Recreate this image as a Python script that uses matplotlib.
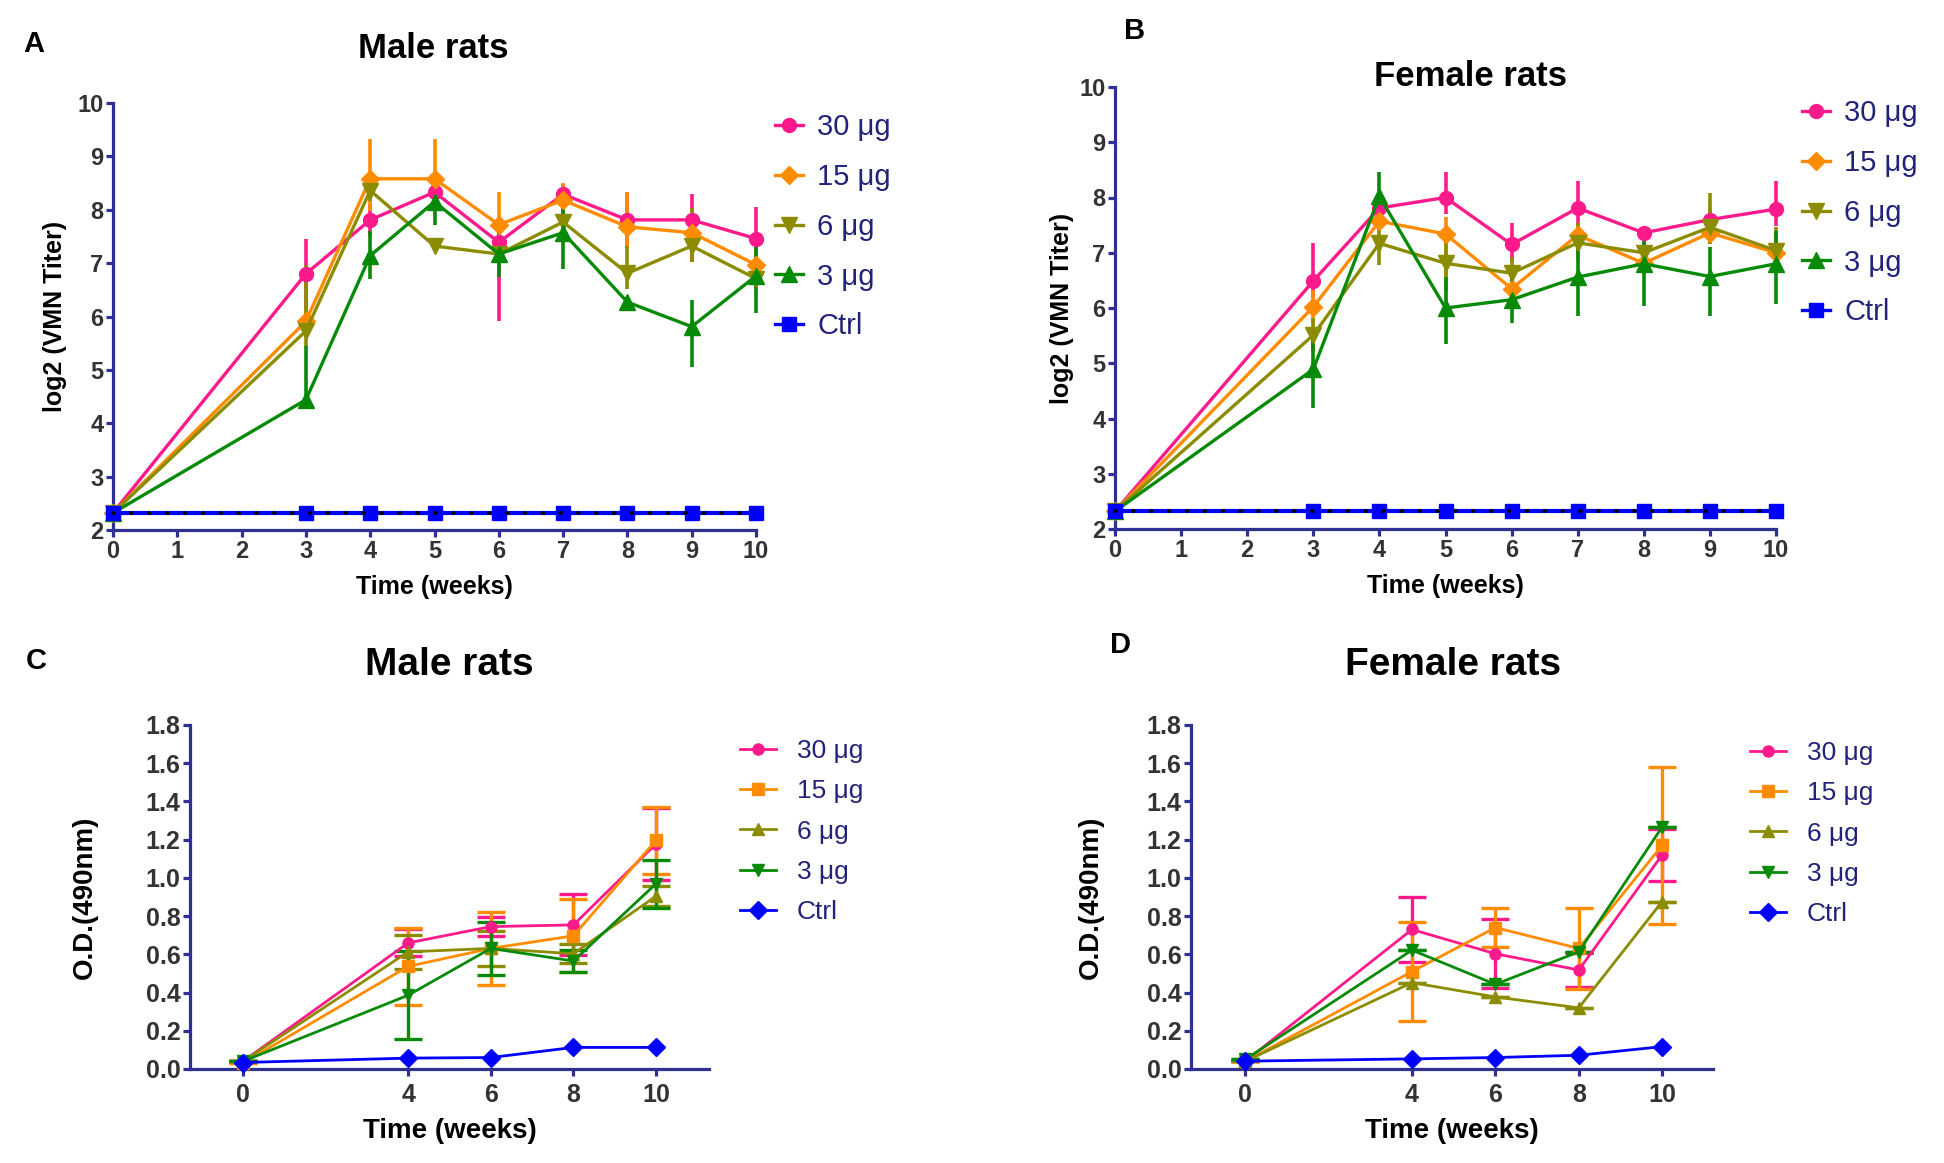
import matplotlib
matplotlib.use("Agg")
import matplotlib.pyplot as plt
from matplotlib.lines import Line2D
import numpy as np

plt.rcParams['font.family'] = ['Liberation Sans', 'DejaVu Sans']

# ---------------- data ----------------
weeks_ab = [0, 3, 4, 5, 6, 7, 8, 9, 10]
weeks_cd = [0, 4, 6, 8, 10]
labels = ['30 μg', '15 μg', '6 μg', '3 μg', 'Ctrl']

# Panel A (male, log2 VMN titer)
A_30 = [2.32, 6.80, 7.81, 8.33, 7.39, 8.29, 7.81, 7.81, 7.46]
A_30_hi = [0, 0.65, 0.30, 0.15, 0.30, 0.20, 0.52, 0.48, 0.60]
A_30_lo = [0, 0.65, 0.30, 0.15, 1.48, 0.20, 0.50, 0.78, 0.50]
A_15 = [2.32, 5.91, 8.58, 8.58, 7.72, 8.18, 7.68, 7.57, 6.97]
A_15_hi = [0, 0.30, 0.74, 0.74, 0.61, 0.32, 0.65, 0.40, 0.30]
A_15_lo = [0, 0.30, 0.60, 0.60, 0.60, 0.30, 0.40, 0.40, 0.30]
A_6 = [2.32, 5.73, 8.36, 7.32, 7.17, 7.77, 6.81, 7.32, 6.71]
A_6_hi = [0, 1.23, 0.20, 0.10, 0.20, 0.30, 0.51, 0.72, 0.20]
A_6_lo = [0, 0.30, 0.20, 0.10, 0.20, 0.30, 0.30, 0.30, 0.20]
A_3 = [2.32, 4.44, 7.14, 8.15, 7.17, 7.57, 6.27, 5.81, 6.76]
A_3_hi = [0, 1.00, 0.47, 0.39, 0.43, 0.47, 0.10, 0.50, 0.56]
A_3_lo = [0, 0.00, 0.43, 0.43, 0.43, 0.68, 0.10, 0.76, 0.70]
A_ctrl = [2.32, 2.32, 2.32, 2.32, 2.32, 2.32, 2.32, 2.32, 2.32]

# Panel B (female, log2 VMN titer)
B_30 = [2.32, 6.49, 7.81, 8.00, 7.15, 7.81, 7.36, 7.60, 7.79]
B_30_hi = [0, 0.69, 0.20, 0.47, 0.38, 0.49, 0.10, 0.20, 0.51]
B_30_lo = [0, 0.30, 0.20, 0.30, 0.30, 0.30, 0.10, 0.20, 0.30]
B_15 = [2.32, 6.02, 7.57, 7.34, 6.35, 7.32, 6.81, 7.36, 7.00]
B_15_hi = [0, 0.30, 0.20, 0.30, 0.20, 0.20, 0.20, 0.20, 0.20]
B_15_lo = [0, 0.30, 0.20, 0.80, 0.20, 0.20, 0.20, 0.20, 0.20]
B_6 = [2.32, 5.51, 7.17, 6.81, 6.63, 7.18, 7.00, 7.46, 7.04]
B_6_hi = [0, 0.30, 0.33, 0.50, 0.30, 0.35, 0.30, 0.63, 0.42]
B_6_lo = [0, 0.30, 0.40, 0.50, 0.30, 0.30, 0.30, 0.30, 0.30]
B_3 = [2.32, 4.89, 8.02, 6.00, 6.15, 6.56, 6.80, 6.57, 6.80]
B_3_hi = [0, 0.70, 0.45, 0.56, 0.45, 0.52, 0.59, 0.54, 0.59]
B_3_lo = [0, 0.70, 0.40, 0.66, 0.43, 0.70, 0.77, 0.71, 0.73]
B_ctrl = [2.32, 2.32, 2.32, 2.32, 2.32, 2.32, 2.32, 2.32, 2.32]

# Panel C (male, O.D. 490nm)
C_30 = [0.04, 0.66, 0.745, 0.754, 1.178]
C_30_err = [0, 0.07, 0.05, 0.16, 0.19]
C_15 = [0.03, 0.537, 0.631, 0.697, 1.197]
C_15_err = [0, 0.20, 0.19, 0.19, 0.175]
C_6 = [0.04, 0.613, 0.631, 0.603, 0.905]
C_6_err = [0, 0.09, 0.09, 0.05, 0.05]
C_3 = [0.04, 0.386, 0.631, 0.565, 0.97]
C_3_err = [0, 0.23, 0.14, 0.06, 0.125]
C_ctrl = [0.034, 0.057, 0.06, 0.113, 0.113]

# Panel D (female, O.D. 490nm)
D_30 = [0.04, 0.73, 0.603, 0.518, 1.12]
D_30_err = [0, 0.17, 0.18, 0.09, 0.135]
D_15 = [0.04, 0.51, 0.74, 0.631, 1.17]
D_15_err = [0, 0.26, 0.10, 0.21, 0.41]
D_6 = [0.04, 0.452, 0.377, 0.32, 0.876]
D_6_err = [0, 0, 0, 0, 0]
D_3 = [0.05, 0.622, 0.443, 0.613, 1.266]
D_3_err = [0, 0, 0, 0, 0]
D_ctrl = [0.041, 0.053, 0.06, 0.072, 0.117]

# ---------------- style ----------------
PINK = '#FF1A8C'
ORANGE = '#FF8C00'
OLIVE = '#8C8C00'
GREEN = '#078A07'
BLUE = '#0000FF'
AXC = '#2E3192'
TICKC = '#333333'
LEGC = '#22227A'

W, H = 1944, 1163
fig = plt.figure(figsize=(W / 100, H / 100), dpi=100)


def rect(l, t, r, b):
    return [l / W, 1 - b / H, (r - l) / W, (b - t) / H]


def style_axes(ax, fs):
    for s in ['top', 'right']:
        ax.spines[s].set_visible(False)
    for s in ['left', 'bottom']:
        ax.spines[s].set_color(AXC)
        ax.spines[s].set_linewidth(2.3)
    ax.tick_params(axis='both', direction='out', length=5, width=2.3, color=AXC,
                   labelsize=fs, labelcolor=TICKC, pad=2)
    for lab in ax.get_xticklabels() + ax.get_yticklabels():
        lab.set_fontweight('bold')


# ---------- Panels A & B ----------
ab_markers = ['o', 'D', 'v', '^', 's']
ab_ms = [10, 9, 11, 11, 10]
ab_colors = [PINK, ORANGE, OLIVE, GREEN, BLUE]


def draw_ab(ax, series, his, los, ctrl, ylab_x):
    for y, hi, lo, c, m, ms in zip(series, his, los, ab_colors[:4], ab_markers[:4], ab_ms[:4]):
        ax.errorbar(weeks_ab, y, yerr=[lo, hi], color=c, ecolor=c, lw=2.4, elinewidth=2.6,
                    capsize=0, marker=m, ms=ms, mec=c, mfc=c, clip_on=False, zorder=3)
    ax.plot(weeks_ab, ctrl, color=BLUE, lw=3, marker='s', ms=10, clip_on=False, zorder=4)
    ax.plot([weeks_ab[0], weeks_ab[-1]], [ctrl[0], ctrl[-1]], color='black', lw=2.8,
            linestyle=(0, (0.2, 4.4)), dash_capstyle='round', zorder=5, clip_on=False)
    ax.set_xlim(0, 10)
    ax.set_ylim(2, 10)
    ax.set_xticks(range(0, 11))
    ax.set_yticks(range(2, 11))
    style_axes(ax, 17)
    ax.set_xlabel('Time (weeks)', fontsize=18, fontweight='bold', labelpad=9)
    ax.set_ylabel('log2 (VMN Titer)', fontsize=18, fontweight='bold')
    ax.yaxis.set_label_coords(ylab_x, 0.5)


def ab_legend(ax, x, y):
    handles = [Line2D([0], [0], color=c, marker=m, ms=ms, lw=2.4, mec=c, mfc=c)
               for c, m, ms in zip(ab_colors, ab_markers, ab_ms)]
    leg = ax.legend(handles, labels, loc='upper left', bbox_to_anchor=(x / W, 1 - y / H),
                    bbox_transform=fig.transFigure, frameon=False, fontsize=21,
                    handlelength=0.95, handletextpad=0.5, labelspacing=0.75,
                    borderpad=0, borderaxespad=0)
    for t in leg.get_texts():
        t.set_color(LEGC)


axA = fig.add_axes(rect(113, 103, 756, 530))
draw_ab(axA, [A_30, A_15, A_6, A_3], [A_30_hi, A_15_hi, A_6_hi, A_3_hi],
        [A_30_lo, A_15_lo, A_6_lo, A_3_lo], A_ctrl, (67 - 113) / 643)
ab_legend(axA, 775, 113)

axB = fig.add_axes(rect(1115, 87, 1776, 529))
draw_ab(axB, [B_30, B_15, B_6, B_3], [B_30_hi, B_15_hi, B_6_hi, B_3_hi],
        [B_30_lo, B_15_lo, B_6_lo, B_3_lo], B_ctrl, (1074 - 1115) / 661)
ab_legend(axB, 1802, 99)

# ---------- Panels C & D ----------
cd_markers = ['o', 's', '^', 'v', 'D']
cd_ms = [8, 8, 9, 9, 9]


def draw_cd(ax, series, errs, ctrl, ylab_x):
    for y, e, c, m, ms in zip(series, errs, ab_colors[:4], cd_markers[:4], cd_ms[:4]):
        ax.errorbar(weeks_cd, y, yerr=e, color=c, ecolor=c, lw=2.0, elinewidth=2.4,
                    capsize=10, capthick=2.4, marker=m, ms=ms, mec=c, mfc=c,
                    clip_on=False, zorder=3)
    ax.plot(weeks_cd, ctrl, color=BLUE, lw=2.0, marker='D', ms=9, clip_on=False, zorder=4)
    ax.set_ylim(0, 1.8)
    ax.set_yticks(np.arange(0, 1.81, 0.2))
    ax.set_yticklabels(['%.1f' % v for v in np.arange(0, 1.81, 0.2)])
    ax.set_xticks(weeks_cd)
    style_axes(ax, 18)
    ax.tick_params(axis='x', pad=5)
    ax.set_xlabel('Time (weeks)', fontsize=20, fontweight='bold', labelpad=8)
    ax.set_ylabel('O.D.(490nm)', fontsize=20, fontweight='bold')
    ax.yaxis.set_label_coords(ylab_x, 0.5)


def cd_legend(ax, x, y):
    handles = [Line2D([0], [0], color=c, marker=m, ms=ms, lw=2.0, mec=c, mfc=c)
               for c, m, ms in zip(ab_colors, cd_markers, cd_ms)]
    leg = ax.legend(handles, labels, loc='upper left', bbox_to_anchor=(x / W, 1 - y / H),
                    bbox_transform=fig.transFigure, frameon=False, fontsize=19,
                    handlelength=1.36, handletextpad=0.8, labelspacing=0.62,
                    borderpad=0, borderaxespad=0)
    for t in leg.get_texts():
        t.set_color(LEGC)


axC = fig.add_axes(rect(190, 725, 709, 1069))
draw_cd(axC, [C_30, C_15, C_6, C_3], [C_30_err, C_15_err, C_6_err, C_3_err], C_ctrl,
        (98 - 190) / 519)
axC.set_xlim(-1.28, 11.28)
cd_legend(axC, 740, 739)

axD = fig.add_axes(rect(1191, 725, 1713, 1069))
draw_cd(axD, [D_30, D_15, D_6, D_3], [D_30_err, D_15_err, D_6_err, D_3_err], D_ctrl,
        (1104 - 1191) / 522)
axD.set_xlim(-1.3, 11.22)
cd_legend(axD, 1750, 741)

# ---------- titles & panel letters ----------
def ftext(x, y, s, size):
    fig.text(x / W, 1 - y / H, s, fontsize=size, fontweight='bold', ha='center', va='center')

ftext(433, 48, 'Male rats', 25)
ftext(1470, 77, 'Female rats', 25)
ftext(449, 665, 'Male rats', 28)
ftext(1453, 665, 'Female rats', 28)
ftext(34, 44, 'A', 21)
ftext(1135, 31, 'B', 21)
ftext(36, 661, 'C', 21)
ftext(1120, 645, 'D', 21)

fig.savefig('out.png', dpi=100, facecolor='white')
